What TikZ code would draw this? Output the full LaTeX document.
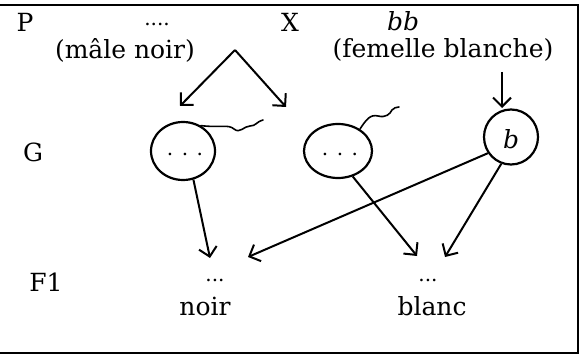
\documentclass[tikz,border=0pt]{standalone}
\usepackage{fontspec}
\setmainfont{DejaVu Serif}
\usetikzlibrary{arrows.meta,shapes.geometric}
\begin{document}
\begin{tikzpicture}[x=1pt,y=-1pt,
  lbl/.style={inner sep=0pt,font=\fontsize{25}{30}\selectfont},
  dots/.style={inner sep=0pt,font=\fontsize{20}{24}\selectfont},
  gamete/.style={draw,line width=2.2pt,ellipse,inner sep=0pt},
  arr/.style={line width=2pt,-{Straight Barb[length=9pt,width=18pt,line width=2pt]}},
  tail/.style={line width=1.6pt,line cap=round,line join=round},
  frame/.style={line width=1.8pt}]
\useasboundingbox (0,0) rectangle (585,363);
\fill[white] (0,0) rectangle (585,363);
% frame
\draw[frame] (0,5) -- (578,5) -- (578,353) -- (0,353);
% row labels
\node[lbl] (P) at (25,22) {P};
\node[lbl] (G) at (33,152) {G};
\node[lbl] (F1) at (46,282) {F1};
% parents
\node[dots] (pdots) at (157,24) {....};
\node[lbl] (X) at (290,22) {X};
\node[lbl] (bb) at (403,21) {\itshape bb};
\node[lbl] (male) at (125,50) {(mâle noir)};
\node[lbl] (fem) at (443,50) {(femelle blanche)};
% gametes
\node[gamete,minimum width=64pt,minimum height=58pt] (c1) at (183,151) {};
\node[dots] (c1t) at (185,154) {. . .};
\node[gamete,minimum width=68pt,minimum height=54pt] (c2) at (338,151) {};
\node[dots] (c2t) at (340,154) {. . .};
\node[gamete,minimum width=54pt,minimum height=55pt] (cb) at (511,137) {};
\node[lbl] (cbt) at (511,139) {\itshape b};
% tails
\draw[tail] (c1.55) .. controls (222,128) and (228,124) .. (234,129)
   .. controls (240,134) and (244,126) .. (250,126)
   .. controls (256,126) and (256,122) .. (263,120);
\draw[tail] (c2.45) .. controls (366,120) and (370,114) .. (378,116)
   .. controls (386,118) and (390,114) .. (392,110)
   .. controls (394,107) and (396,108) .. (399,107);
% F1
\node[dots] (d1) at (215,280) {...};
\node[lbl] (noir) at (205,306) {noir};
\node[dots] (d2) at (428,280) {...};
\node[lbl] (blanc) at (432,306) {blanc};
% arrow coordinates
\coordinate (apex) at (235,50);
\coordinate (t1) at (180,106);
\coordinate (t2) at (286,107);
\coordinate (fs) at (502,72);
\coordinate (ft) at (502,108);
\coordinate (n1) at (210,258);
\coordinate (n2) at (248,257);
\coordinate (b1) at (417,256);
\coordinate (b2) at (445,257);
% arrows
\draw[arr] (apex) -- (t1);
\draw[arr] (apex) -- (t2);
\draw[arr] (fs) -- (ft);
\draw[arr] (c1.290) -- (n1);
\draw[arr] (cb.215) -- (n2);
\draw[arr] (c2.300) -- (b1);
\draw[arr] (cb.250) -- (b2);
\end{tikzpicture}
\end{document}
